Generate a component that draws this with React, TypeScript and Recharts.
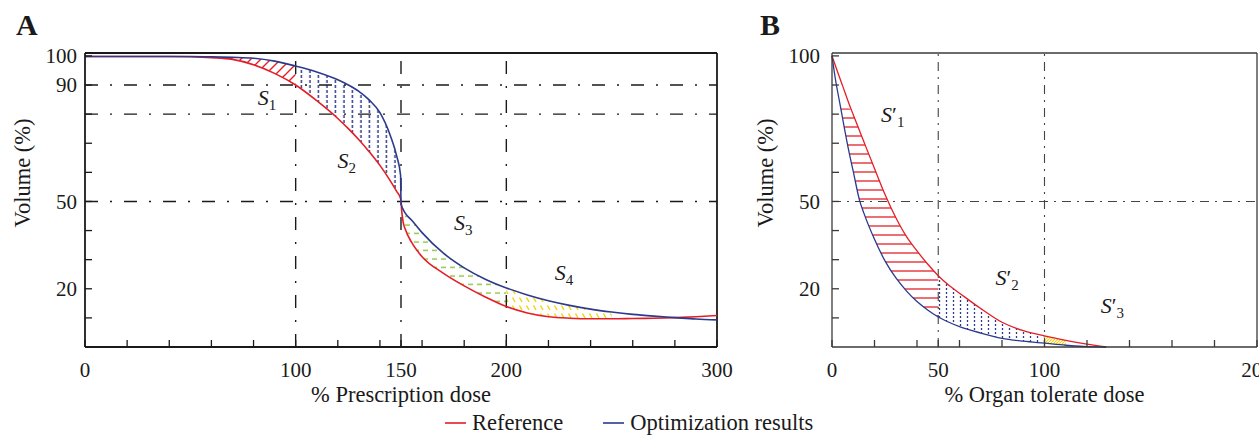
import React from 'react';
import { ComposedChart, Line, Area, XAxis, YAxis, ReferenceLine, ReferenceDot } from 'recharts';

const FONT = '"Liberation Serif", "Times New Roman", serif';
const RED = '#e41e26';
const BLUE = '#2c3a8c';
const GREEN = '#8dc63f';
const YELLOW = '#f2d200';
const INK = '#1a1a1a';

// Panel A: % prescription dose vs volume
const doseA = [0, 20, 40, 50, 60, 70, 80, 90, 100, 110, 120, 125, 130, 135, 140, 145, 148, 149.8, 150, 150.3, 151, 152, 155, 160, 170, 180, 190, 200, 210, 220, 230, 240, 250, 260, 270, 280, 290, 300];
const refA = [99.8, 99.8, 99.8, 99.7, 99.4, 98.8, 97.0, 94.0, 90.0, 84.6, 78.5, 75.0, 71.2, 67.0, 62.4, 57.0, 53.4, 51.0, 50.0, 47.0, 43.0, 40.5, 36.0, 31.0, 25.4, 21.0, 17.2, 13.9, 11.7, 10.4, 9.9, 9.7, 9.7, 9.8, 9.9, 10.1, 10.4, 10.8];
const optA = [99.8, 99.8, 99.8, 99.8, 99.7, 99.5, 99.2, 98.2, 96.5, 94.5, 91.8, 90.0, 87.8, 84.8, 80.5, 72.5, 65.5, 59.0, 50.0, 48.5, 47.3, 46.0, 43.6, 39.3, 32.3, 27.2, 23.3, 20.3, 17.9, 15.9, 14.3, 13.0, 12.0, 11.2, 10.6, 10.1, 9.6, 9.3];
const xTicksA = [0, 20, 40, 60, 80, 100, 120, 140, 150, 160, 180, 200, 220, 240, 260, 280, 300];
const xLabelsA = [0, 100, 150, 200, 300];
const yLabelsA = [20, 50, 90, 100];
const guideXA = [100, 150, 200];
const guideYA = [90, 80, 50];
// shaded regions S1..S4 (dose ranges)
const regionsA = [
  { id: 'pA1', from: 60, to: 100 },
  { id: 'pA2', from: 100, to: 150 },
  { id: 'pA3', from: 150, to: 200 },
  { id: 'pA4', from: 200, to: 250 },
];
const labelsA = [
  { x: 86.4, y: 83.2, sub: '1' },
  { x: 124.2, y: 61.4, sub: '2' },
  { x: 179.5, y: 40.2, sub: '3' },
  { x: 227.4, y: 23.0, sub: '4' },
];

// Panel B: % organ tolerate dose vs volume
const doseB = [0, 1.5, 4, 5, 8, 10, 13, 15, 20, 25, 30, 35, 40, 45, 50, 55, 60, 70, 80, 90, 100, 110, 120, 129];
const refB = [100, 96.9, 91.7, 89.7, 83.6, 79.8, 74.2, 70.5, 61.3, 52.3, 44.5, 38.0, 33.0, 28.5, 24.5, 21.2, 18.5, 13.2, 8.5, 5.6, 3.8, 2.3, 1.0, 0];
const optB = [100, 92.5, 82.5, 78.5, 67.0, 60.3, 50.3, 46.0, 37.0, 29.5, 23.8, 19.3, 15.6, 12.7, 10.3, 8.5, 7.0, 4.8, 3.0, 2.0, 1.3, 0.6, 0.1, 0];
const xTicksB = [0, 20, 40, 50, 60, 80, 100, 120, 140, 160, 180, 200];
const xLabelsB = [0, 50, 100, 200];
const yLabelsB = [20, 50, 100];
const guideXB = [50, 100];
const guideYB = [50];
const regionsB = [
  { id: 'pB1', from: 4, to: 50, cap: 82 },
  { id: 'pB2', from: 50, to: 100 },
  { id: 'pB3', from: 100, to: 110 },
];
const labelsB = [
  { x: 28.6, y: 77.4, sub: '1' },
  { x: 82.4, y: 21.3, sub: '2' },
  { x: 131.9, y: 11.6, sub: '3' },
];

const yTicks = [10, 20, 30, 40, 50, 60, 70, 80, 90, 100];
const legendItems = [
  { name: 'Reference', color: RED },
  { name: 'Optimization results', color: BLUE },
];

const toTable = (dose: number[], ref: number[], opt: number[]) =>
  dose.map((d, i) => ({ dose: d, ref: ref[i], opt: opt[i] }));

const bandData = (table: any[], from: number, to: number, cap?: number) =>
  table
    .filter((r) => r.dose >= from && r.dose <= to)
    .map((r) => {
      let hi = Math.max(r.ref, r.opt);
      if (cap !== undefined) hi = Math.min(hi, cap);
      return { dose: r.dose, band: [Math.min(r.ref, r.opt), hi] };
    });

const XTick = (props: any) => {
  const { x, y, payload, labels, color } = props;
  return (
    <g>
      <line x1={x} y1={y} x2={x} y2={y - 7} stroke={color} strokeWidth={1.3} />
      {labels.includes(payload.value) && (
        <text x={x} y={y + 30} textAnchor="middle" fontFamily={FONT} fontSize={21} fill={INK}>
          {payload.value}
        </text>
      )}
    </g>
  );
};

const YTick = (props: any) => {
  const { x, y, payload, labels, color, gap } = props;
  return (
    <g>
      <line x1={x} y1={y} x2={x + 7} y2={y} stroke={color} strokeWidth={1.3} />
      {labels.includes(payload.value) && (
        <text x={x - gap} y={y} dy="0.34em" textAnchor="end" fontFamily={FONT} fontSize={21} fill={INK}>
          {payload.value}
        </text>
      )}
    </g>
  );
};

const YTitle = ({ vb, x }: any) => {
  const cy = vb.y + vb.height / 2 - 27;
  return (
    <text x={x} y={cy} transform={`rotate(-90, ${x}, ${cy})`} textAnchor="middle" fontFamily={FONT} fontSize={22.5} fill={INK}>
      Volume (%)
    </text>
  );
};

const SLabel = ({ vb, sub, prime }: any) => (
  <text x={vb.x + (vb.width || 0) / 2} y={vb.y + (vb.height || 0) / 2} textAnchor="middle" fontFamily={FONT} fontSize={22} fill={INK}>
    <tspan fontStyle="italic">S</tspan>
    {prime ? <tspan>′</tspan> : null}
    <tspan fontSize={15} dy={5}>{sub}</tspan>
  </text>
);

const PanelA = () => {
  const table = toTable(doseA, refA, optA);
  const dash = '13 12 2 12';
  return (
    <ComposedChart width={740} height={437} margin={{ top: 53, right: 23, bottom: 35, left: 25 }}>
      <defs>
        <pattern id="pA1" patternUnits="userSpaceOnUse" width={10} height={10}>
          <path d="M0,10 L10,0 M-2.5,2.5 L2.5,-2.5 M7.5,12.5 L12.5,7.5" stroke={RED} strokeWidth={1.4} />
        </pattern>
        <pattern id="pA2" patternUnits="userSpaceOnUse" width={8.5} height={5}>
          <line x1={4} y1={0} x2={4} y2={3} stroke={BLUE} strokeWidth={1.5} />
        </pattern>
        <pattern id="pA3" patternUnits="userSpaceOnUse" width={9} height={8.5}>
          <line x1={0} y1={4} x2={5} y2={4} stroke={GREEN} strokeWidth={1.4} />
        </pattern>
        <pattern id="pA4" patternUnits="userSpaceOnUse" width={7} height={8}>
          <line x1={1.5} y1={1.5} x2={4} y2={6} stroke={YELLOW} strokeWidth={1.4} />
        </pattern>
      </defs>
      <XAxis
        dataKey="dose"
        type="number"
        domain={[0, 300]}
        ticks={xTicksA}
        interval={0}
        tickSize={0}
        tickMargin={0}
        height={55}
        axisLine={{ stroke: INK, strokeWidth: 1.8 }}
        tickLine={false}
        tick={(p: any) => <XTick {...p} labels={xLabelsA} color={INK} />}
        label={{ value: '% Prescription dose', position: 'insideBottom', offset: 0, fontFamily: FONT, fontSize: 22.5, fill: INK }}
      />
      <YAxis
        type="number"
        domain={[0, 101]}
        ticks={yTicks}
        interval={0}
        tickSize={0}
        tickMargin={0}
        width={60}
        axisLine={{ stroke: INK, strokeWidth: 1.8 }}
        tickLine={false}
        tick={(p: any) => <YTick {...p} labels={yLabelsA} color={INK} gap={8} />}
        label={{ content: (p: any) => <YTitle vb={p.viewBox} x={30} /> }}
      />
      <ReferenceLine y={101} stroke={INK} strokeWidth={1.8} />
      <ReferenceLine x={300} stroke={INK} strokeWidth={1.8} />
      {guideYA.map((v) => (
        <ReferenceLine key={`gy${v}`} y={v} stroke={INK} strokeWidth={1.4} strokeDasharray={dash} />
      ))}
      {guideXA.map((v) => (
        <ReferenceLine key={`gx${v}`} x={v} stroke={INK} strokeWidth={1.4} strokeDasharray={dash} />
      ))}
      {regionsA.map((r) => (
        <Area
          key={r.id}
          data={bandData(table, r.from, r.to)}
          dataKey="band"
          type="monotone"
          stroke="none"
          fill={`url(#${r.id})`}
          fillOpacity={1}
          dot={false}
          activeDot={false}
          isAnimationActive={false}
        />
      ))}
      <Line data={table} dataKey="ref" type="monotone" stroke={RED} strokeWidth={1.6} dot={false} activeDot={false} isAnimationActive={false} />
      <Line data={table} dataKey="opt" type="monotone" stroke={BLUE} strokeWidth={1.6} dot={false} activeDot={false} isAnimationActive={false} />
      {labelsA.map((l) => (
        <ReferenceDot key={l.sub} x={l.x} y={l.y} r={0} fill="none" stroke="none" label={(p: any) => <SLabel vb={p.viewBox} sub={l.sub} />} />
      ))}
    </ComposedChart>
  );
};

const PanelB = () => {
  const table = toTable(doseB, refB, optB);
  const dash = '9 6 2 6';
  const frame = '#3a3a3a';
  return (
    <ComposedChart width={519} height={437} margin={{ top: 53, right: 2, bottom: 35, left: 32 }}>
      <defs>
        <pattern id="pB1" patternUnits="userSpaceOnUse" width={10} height={9}>
          <line x1={0} y1={1} x2={10} y2={1} stroke={RED} strokeWidth={1.3} />
        </pattern>
        <pattern id="pB2" patternUnits="userSpaceOnUse" width={7} height={4}>
          <line x1={3.5} y1={0} x2={3.5} y2={2} stroke={BLUE} strokeWidth={1.3} />
        </pattern>
        <pattern id="pB3" patternUnits="userSpaceOnUse" width={3} height={3}>
          <path d="M0,3 L3,0" stroke={YELLOW} strokeWidth={1.2} />
        </pattern>
      </defs>
      <XAxis
        dataKey="dose"
        type="number"
        domain={[0, 200]}
        ticks={xTicksB}
        interval={0}
        tickSize={0}
        tickMargin={0}
        height={55}
        axisLine={{ stroke: frame, strokeWidth: 1.3 }}
        tickLine={false}
        tick={(p: any) => <XTick {...p} labels={xLabelsB} color={frame} />}
        label={{ value: '% Organ tolerate dose', position: 'insideBottom', offset: 0, fontFamily: FONT, fontSize: 22.5, fill: INK }}
      />
      <YAxis
        type="number"
        domain={[0, 101]}
        ticks={yTicks}
        interval={0}
        tickSize={0}
        tickMargin={0}
        width={60}
        axisLine={{ stroke: frame, strokeWidth: 1.3 }}
        tickLine={false}
        tick={(p: any) => <YTick {...p} labels={yLabelsB} color={frame} gap={12} />}
        label={{ content: (p: any) => <YTitle vb={p.viewBox} x={33} /> }}
      />
      <ReferenceLine y={101} stroke={frame} strokeWidth={1.3} />
      <ReferenceLine x={200} stroke={frame} strokeWidth={1.3} />
      {guideYB.map((v) => (
        <ReferenceLine key={`gy${v}`} y={v} stroke="#444" strokeWidth={1.1} strokeDasharray={dash} />
      ))}
      {guideXB.map((v) => (
        <ReferenceLine key={`gx${v}`} x={v} stroke="#444" strokeWidth={1.1} strokeDasharray={dash} />
      ))}
      {regionsB.map((r) => (
        <Area
          key={r.id}
          data={bandData(table, r.from, r.to, r.cap)}
          dataKey="band"
          type="monotone"
          stroke="none"
          fill={`url(#${r.id})`}
          fillOpacity={1}
          dot={false}
          activeDot={false}
          isAnimationActive={false}
        />
      ))}
      <Line data={table} dataKey="ref" type="monotone" stroke={RED} strokeWidth={1.3} dot={false} activeDot={false} isAnimationActive={false} />
      <Line data={table} dataKey="opt" type="monotone" stroke={BLUE} strokeWidth={1.3} dot={false} activeDot={false} isAnimationActive={false} />
      {labelsB.map((l) => (
        <ReferenceDot key={l.sub} x={l.x} y={l.y} r={0} fill="none" stroke="none" label={(p: any) => <SLabel vb={p.viewBox} sub={l.sub} prime />} />
      ))}
    </ComposedChart>
  );
};

const letterStyle: React.CSSProperties = {
  position: 'absolute',
  top: 10,
  fontFamily: FONT,
  fontWeight: 'bold',
  fontSize: 30,
  lineHeight: 1,
  color: INK,
};

export default function App() {
  return (
    <div style={{ position: 'absolute', left: 0, top: 0, width: 1259, height: 437, overflow: 'hidden', background: '#fff' }}>
      <div style={{ position: 'absolute', left: 0, top: 0 }}>
        <PanelA />
      </div>
      <div style={{ position: 'absolute', left: 740, top: 0 }}>
        <PanelB />
      </div>
      <div style={{ ...letterStyle, left: 16 }}>A</div>
      <div style={{ ...letterStyle, left: 760 }}>B</div>
      <div style={{ position: 'absolute', left: 445, top: 414, display: 'flex', gap: 40, fontFamily: FONT, fontSize: 22.5, lineHeight: '18px', color: INK, whiteSpace: 'nowrap' }}>
        {legendItems.map((it) => (
          <div key={it.name} style={{ display: 'flex', alignItems: 'center' }}>
            <svg width={21} height={4} style={{ marginRight: 6 }}>
              <line x1={0} y1={2} x2={21} y2={2} stroke={it.color} strokeWidth={1.6} />
            </svg>
            {it.name}
          </div>
        ))}
      </div>
    </div>
  );
}
